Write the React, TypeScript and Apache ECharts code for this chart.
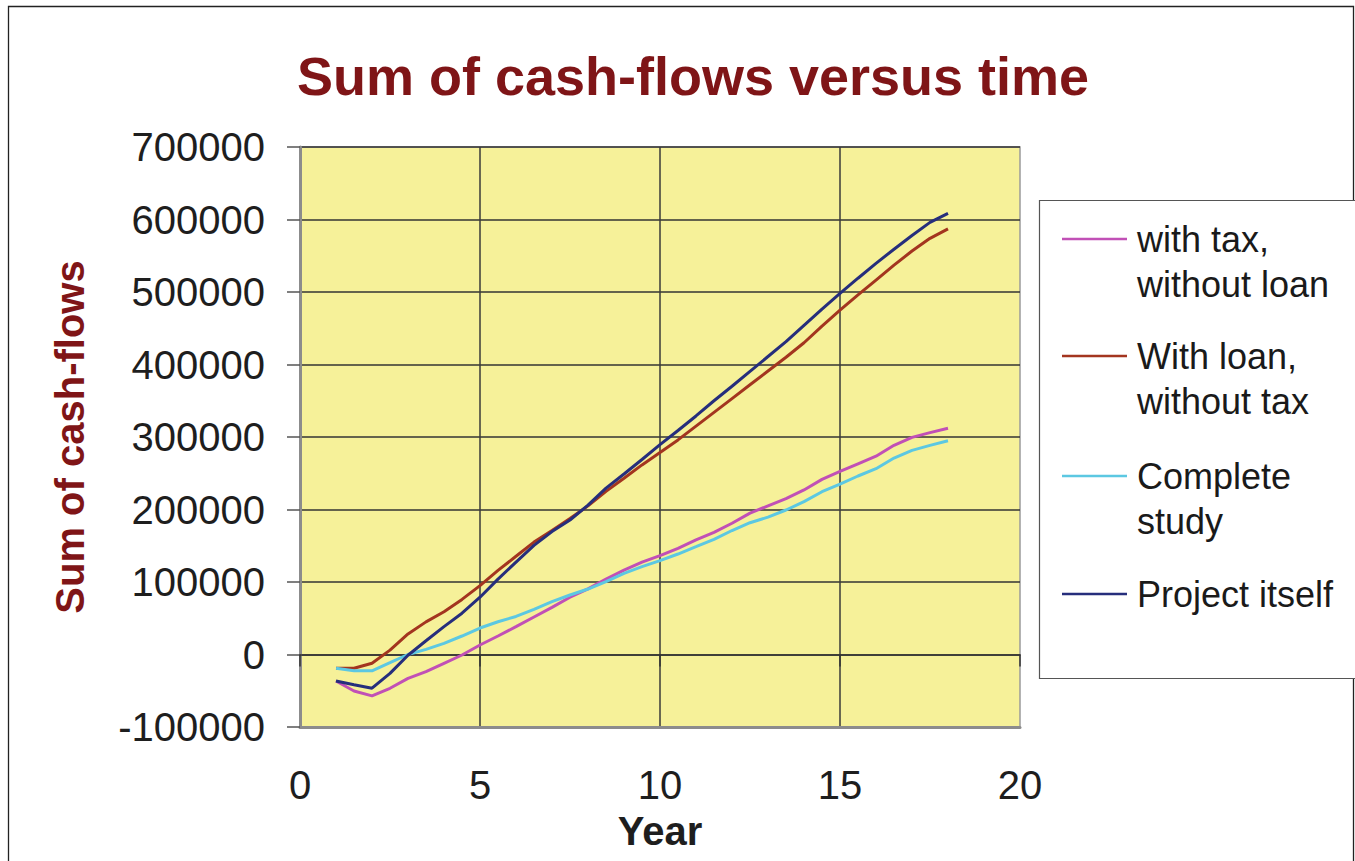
import React, { useEffect, useRef } from "react";
import * as echarts from "echarts";

// Years (half-year steps)
const YEARS = [
  1, 1.5, 2, 2.5, 3, 3.5, 4, 4.5, 5, 5.5, 6, 6.5, 7, 7.5, 8, 8.5, 9, 9.5, 10,
  10.5, 11, 11.5, 12, 12.5, 13, 13.5, 14, 14.5, 15, 15.5, 16, 16.5, 17, 17.5, 18,
];

const WITH_TAX_NO_LOAN = [
  -36500, -50300, -57000, -46600, -33000, -23700, -12200, -700, 13100, 25500,
  38400, 51700, 65000, 79000, 90500, 104000, 116500, 127500, 136500, 146500,
  158000, 168500, 181000, 195000, 205000, 215000, 227000, 241500, 252500,
  263000, 273500, 288500, 299500, 306000, 312000,
];

const WITH_LOAN_NO_TAX = [
  -19000, -19000, -12000, 6000, 28300, 45000, 59000, 76000, 95000, 116000,
  135500, 155000, 171000, 187500, 205000, 225000, 243000, 261500, 278500,
  296000, 315000, 334000, 353000, 372000, 391000, 410000, 430000, 453000,
  475000, 496000, 516500, 537000, 556500, 574000, 587000,
];

const COMPLETE_STUDY = [
  -19000, -22500, -22500, -11300, 0, 7100, 15400, 25500, 36500, 45200, 52500,
  62300, 72800, 82100, 90300, 100400, 112000, 121100, 129500, 138600, 148700,
  158900, 171000, 181800, 189500, 199300, 210800, 224500, 235000, 246200,
  256300, 271000, 281600, 288500, 294900,
];

const PROJECT_ITSELF = [
  -36500, -41600, -46500, -26000, -1000, 19000, 38500, 57000, 79000, 104000,
  127500, 150500, 169500, 185500, 206000, 229500, 249000, 269000, 289500,
  309000, 329000, 350000, 370000, 390500, 411000, 431500, 454000, 476500,
  498000, 519000, 539500, 559000, 578000, 596000, 608500,
];

const SERIES_NAMES = [
  "with tax, without loan",
  "With loan, without tax",
  "Complete study",
  "Project itself",
];
const LEGEND_LINES = [
  ["with tax,", "without loan"],
  ["With loan,", "without tax"],
  ["Complete", "study"],
  ["Project itself"],
];
const SERIES_COLORS = ["#C150B6", "#A3351F", "#5CC8E2", "#262E7C"];

const TITLE = "Sum of cash-flows versus time";
const X_NAME = "Year";
const Y_NAME = "Sum of cash-flows";

const X_MIN = 0;
const X_MAX = 20;
const X_STEP = 5;
const Y_MIN = -100000;
const Y_MAX = 700000;
const Y_STEP = 100000;

const FONT = "'Liberation Sans', Arial, Helvetica, sans-serif";

export default function App() {
  const ref = useRef<HTMLDivElement>(null);

  useEffect(() => {
    document.body.style.margin = "0";
    if (!ref.current) return;
    const chart = echarts.init(ref.current, undefined, { renderer: "svg" });

    const allValues = [WITH_TAX_NO_LOAN, WITH_LOAN_NO_TAX, COMPLETE_STUDY, PROJECT_ITSELF];

    const series = allValues.map((vals, i) => ({
      name: SERIES_NAMES[i],
      type: "line",
      xAxisIndex: 0,
      yAxisIndex: 0,
      data: YEARS.map((x, k) => [x, vals[k]]),
      showSymbol: false,
      symbol: "none",
      lineStyle: { color: SERIES_COLORS[i], width: 3 },
      itemStyle: { color: SERIES_COLORS[i] },
      z: 5,
    }));

    const legendY = [239, 356, 476, 594];
    const legendGraphics: any[] = [
      {
        type: "rect",
        shape: { x: 1039.5, y: 200.5, width: 340, height: 478 },
        style: { fill: "#ffffff", stroke: "#555", lineWidth: 1.2 },
        z: 10,
      },
    ];
    LEGEND_LINES.forEach((lines, i) => {
      legendGraphics.push({
        type: "line",
        shape: { x1: 1062, y1: legendY[i], x2: 1127, y2: legendY[i] },
        style: { stroke: SERIES_COLORS[i], lineWidth: 2.4 },
        z: 11,
      });
      lines.forEach((t, j) => {
        legendGraphics.push({
          type: "text",
          x: 1137,
          y: legendY[i] + j * 45,
          style: {
            text: t,
            fill: "#1a1a1a",
            font: `36px ${FONT}`,
            textAlign: "left",
            textVerticalAlign: "middle",
          },
          z: 11,
        });
      });
    });

    chart.setOption({
      animation: false,
      backgroundColor: "#ffffff",
      grid: {
        left: 300,
        top: 147,
        width: 720,
        height: 580,
        show: true,
        backgroundColor: "#F6F199",
        borderColor: "#9a9a9a",
        borderWidth: 1.5,
      },
      xAxis: [
        {
          type: "value",
          position: "bottom",
          min: X_MIN,
          max: X_MAX,
          interval: X_STEP,
          axisLine: { onZero: false, lineStyle: { color: "#8c8c8c", width: 3 } },
          axisTick: { show: false },
          axisLabel: {
            color: "#1e1e1e",
            fontSize: 40,
            fontFamily: FONT,
            margin: 38,
          },
          splitLine: {
            show: true,
            showMinLine: false,
            showMaxLine: false,
            lineStyle: { color: "#3a3a3a", width: 1.5 },
          },
          name: X_NAME,
          nameLocation: "middle",
          nameGap: 84,
          nameTextStyle: {
            color: "#1e1e1e",
            fontSize: 40,
            fontWeight: "bold",
            fontFamily: FONT,
          },
        },
        {
          type: "value",
          position: "top",
          min: X_MIN,
          max: X_MAX,
          interval: X_STEP,
          axisLine: { show: true, onZero: true, lineStyle: { color: "#333", width: 1.5 } },
          axisTick: { show: true, inside: true, length: 12, lineStyle: { color: "#333", width: 1.5 } },
          axisLabel: { show: false },
          splitLine: { show: false },
        },
      ],
      yAxis: {
        type: "value",
        min: Y_MIN,
        max: Y_MAX,
        interval: Y_STEP,
        axisLine: { show: true, onZero: false, lineStyle: { color: "#8c8c8c", width: 3 } },
        axisTick: { show: true, length: 13, lineStyle: { color: "#555", width: 1.5 } },
        axisLabel: {
          color: "#1e1e1e",
          fontSize: 40,
          fontFamily: FONT,
          margin: 35,
          formatter: (v: number) => String(v),
        },
        splitLine: {
          show: true,
          showMinLine: false,
          lineStyle: { color: "#333", width: 1.5 },
        },
        name: Y_NAME,
        nameLocation: "middle",
        nameGap: 210,
        nameTextStyle: {
          color: "#7F1517",
          fontSize: 40,
          fontWeight: "bold",
          fontFamily: FONT,
        },
      },
      graphic: [
        {
          type: "rect",
          shape: { x: 8.5, y: 6.5, width: 1345, height: 900 },
          style: { fill: "none", stroke: "#222", lineWidth: 1.3 },
          silent: true,
          z: 0,
        },
        {
          type: "text",
          x: 693,
          y: 76,
          style: {
            text: TITLE,
            fill: "#7F1517",
            font: `bold 54px ${FONT}`,
            textAlign: "center",
            textVerticalAlign: "middle",
          },
          z: 10,
        },
        ...legendGraphics,
      ],
      series,
    });

    return () => {
      chart.dispose();
    };
  }, []);

  return <div ref={ref} style={{ width: 1355, height: 861 }} />;
}
